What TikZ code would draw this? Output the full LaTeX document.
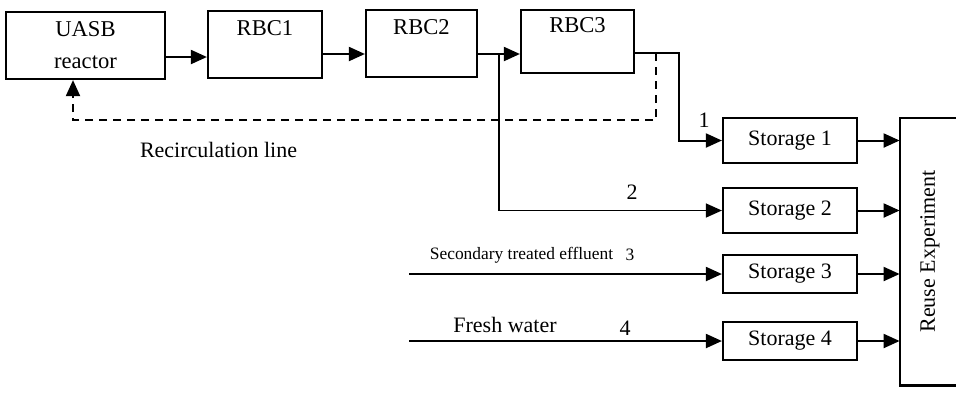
\documentclass[tikz,border=0pt]{standalone}
\usepackage{fontspec}
\setmainfont{Liberation Serif}
\usetikzlibrary{arrows.meta}

\begin{document}
\begin{tikzpicture}[
  x=0.5pt, y=-0.5pt,
  unit/.style={rectangle, draw, line width=1.1pt, inner sep=0pt, align=center,
               font=\fontsize{11.3}{16}\selectfont},
  store/.style={rectangle, draw, line width=1.1pt, inner sep=0pt,
                minimum width=67pt, font=\fontsize{11}{13}\selectfont},
  flow/.style={line width=1pt, -{Triangle[length=8pt, width=7pt]}},
  tap/.style={line width=0.7pt, -{Triangle[length=8pt, width=7pt]}},
  recirc/.style={line width=1pt, dashed, dash pattern=on 4pt off 3pt,
                 -{Triangle[length=8pt, width=7pt]}},
  lab/.style={font=\fontsize{11}{13}\selectfont},
  smalllab/.style={font=\fontsize{8.7}{10}\selectfont},
]
\useasboundingbox (0,0) rectangle (956,393);
% treatment train
\node[unit, minimum width=79.5pt, minimum height=33.5pt] (uasb) at (85.5,45.5) {UASB\\reactor};
\node[unit, minimum width=57pt, minimum height=33.5pt] (rbc1) at (265,44.5) {RBC1\\\mbox{}};
\node[unit, minimum width=55.5pt, minimum height=33.5pt] (rbc2) at (421.5,43.5) {RBC2\\\mbox{}};
\node[unit, minimum width=56.5pt, minimum height=31.5pt] (rbc3) at (577.5,41.5) {RBC3\\\mbox{}};
% storage tanks
\node[store, minimum height=22.5pt] (st1) at (790,140.5) {Storage 1};
\node[store, minimum height=22.5pt] (st2) at (790,210.5) {Storage 2};
\node[store, minimum height=19pt] (st3) at (790,274) {Storage 3};
\node[store, minimum height=19pt] (st4) at (790,341) {Storage 4};
% reuse experiment (open on the right)
\node[minimum width=28pt, minimum height=133.5pt, inner sep=0pt] (reuse) at (928,251.5) {};
\draw[line width=1.1pt] (reuse.north east) -- (reuse.north west) -- (reuse.south west) -- (reuse.south east);
\node[lab, rotate=90] (reusetxt) at (930,251.5) {Reuse Experiment};
% train connectors
\draw[flow] (uasb.east |- 0,57) -- (rbc1.west |- 0,57);
\draw[flow] (rbc1.east |- 0,54) -- (rbc2.west |- 0,54);
\draw[flow] (rbc2.east |- 0,54) -- (rbc3.west |- 0,54);
% branch 2 taken before RBC3
\coordinate (tap2) at (499,54);
\draw[tap] (tap2) |- (st2.west);
% branch 1 after RBC3
\coordinate (bend1) at (679,53);
\draw[flow] (rbc3.east |- bend1) -- (bend1) |- (st1.west);
% recirculation back to UASB
\coordinate (rec1) at (656,53);
\coordinate (recturn) at (73,120);
\draw[recirc] (rec1) |- (recturn) -- (uasb.south -| recturn);
% outside sources 3 and 4
\coordinate (src3) at (409,274);
\coordinate (src4) at (409,341);
\draw[flow] (src3) -- (st3.west);
\draw[flow] (src4) -- (st4.west);
% storages to reuse
\foreach \s in {st1, st2, st3, st4}
  \draw[flow] (\s.east) -- (reuse.west |- \s.east);
% labels
\node[lab] (reclab) at (218.5,150) {Recirculation line};
\node[lab] (num1) at (704,120) {1};
\node[lab] (num2) at (632,192) {2};
\node[smalllab] (seclab) at (521.5,255) {Secondary treated effluent};
\node[smalllab] (num3) at (630,255) {3};
\node[lab] (freshlab) at (505,325) {Fresh water};
\node[lab] (num4) at (625,328) {4};
\end{tikzpicture}
\end{document}
